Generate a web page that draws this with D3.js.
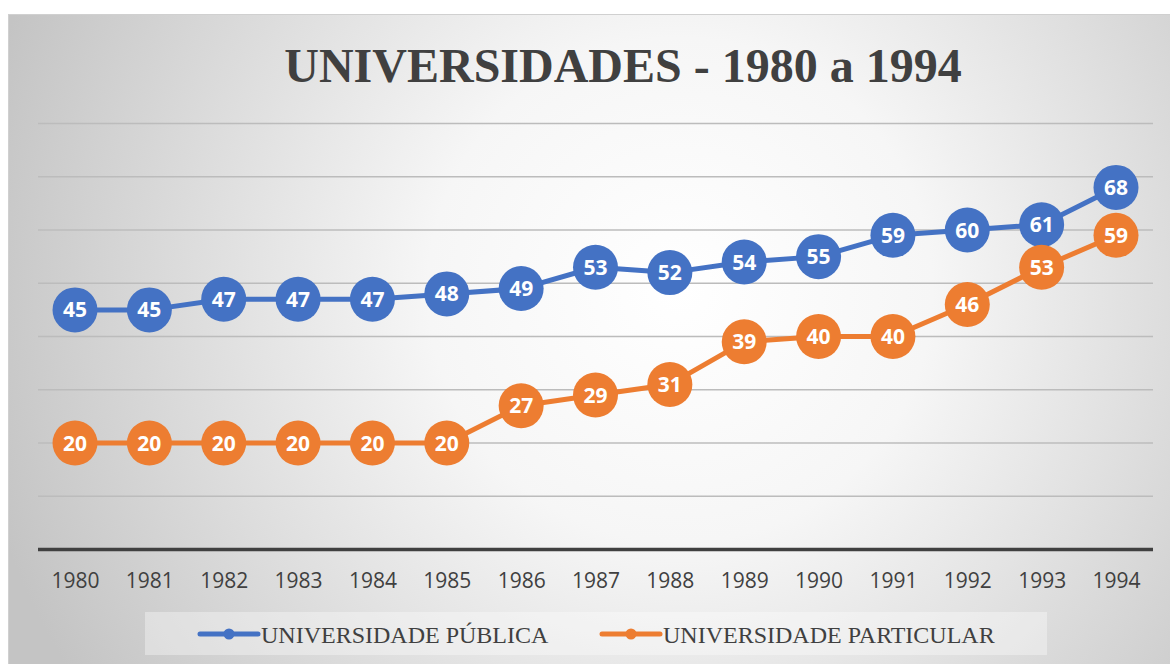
<!DOCTYPE html>
<html lang="pt">
<head>
  <meta charset="UTF-8">
  <title>Universidades 1980 a 1994</title>
  <script src="https://d3js.org/d3.v7.min.js"></script>
  <style>
    * { margin: 0; padding: 0; box-sizing: border-box; }
    body { background: #fff; }
  </style>
</head>
<body>
  <div id="chart"></div>
  <script>
    // dados
    const anos = ["1980","1981","1982","1983","1984","1985","1986","1987","1988","1989","1990","1991","1992","1993","1994"];
    const publica = [45, 45, 47, 47, 47, 48, 49, 53, 52, 54, 55, 59, 60, 61, 68];
    const particular = [20, 20, 20, 20, 20, 20, 27, 29, 31, 39, 40, 40, 46, 53, 59];
    const yTicks = [0, 10, 20, 30, 40, 50, 60, 70, 80];
    const seriesNames = ["UNIVERSIDADE PÚBLICA", "UNIVERSIDADE PARTICULAR"];
    const seriesColors = ["#4472c4", "#ed7d31"];

    const W = 1170, H = 664;
    const svg = d3.select("#chart").append("svg")
      .attr("width", W).attr("height", H);

    const defs = svg.append("defs");
    const grad = defs.append("radialGradient")
      .attr("id", "bg")
      .attr("gradientUnits", "userSpaceOnUse")
      .attr("cx", 680).attr("cy", 290).attr("r", 720);
    grad.append("stop").attr("offset", "0%").attr("stop-color", "#ffffff");
    grad.append("stop").attr("offset", "35%").attr("stop-color", "#f6f6f6");
    grad.append("stop").attr("offset", "100%").attr("stop-color", "#c4c4c4");

    // fundo
    svg.append("rect")
      .attr("x", 8.5).attr("y", 14.5)
      .attr("width", W - 8).attr("height", H - 14)
      .attr("fill", "url(#bg)")
      .attr("stroke", "#d0d0d0");

    const x = d3.scalePoint().domain(anos).range([75, 1116]);
    const y = d3.scaleLinear().domain([0, 80]).range([549.5, 123.5]);

    // grade
    svg.append("g")
      .selectAll("line")
      .data(yTicks.filter(d => d > 0))
      .join("line")
      .attr("x1", 38).attr("x2", 1153)
      .attr("y1", d => y(d)).attr("y2", d => y(d))
      .attr("stroke", "#bcbcbc")
      .attr("stroke-width", 1.5);

    // eixo x
    const xAxis = svg.append("g")
      .attr("transform", `translate(0, ${y(0)})`)
      .call(d3.axisBottom(x).tickSize(0).tickPadding(24));
    xAxis.select(".domain")
      .attr("d", "M38,0H1153")
      .attr("stroke", "#404040")
      .attr("stroke-width", 3.5);
    xAxis.selectAll("text")
      .style("font-family", "'Open Sans', sans-serif")
      .style("font-size", "21px")
      .attr("fill", "#404040");

    // título
    svg.append("text")
      .attr("x", 623).attr("y", 82)
      .attr("text-anchor", "middle")
      .style("font-family", "'Liberation Serif', 'Times New Roman', serif")
      .style("font-weight", "bold")
      .style("font-size", "48px")
      .attr("fill", "#404040")
      .text("UNIVERSIDADES - 1980 a 1994");

    const line = d3.line()
      .x((d, i) => x(anos[i]))
      .y(d => y(d));

    [publica, particular].forEach((vals, k) => {
      const g = svg.append("g");
      g.append("path")
        .datum(vals)
        .attr("d", line)
        .attr("fill", "none")
        .attr("stroke", seriesColors[k])
        .attr("stroke-width", 5)
        .attr("stroke-linejoin", "round");
      g.selectAll("circle")
        .data(vals)
        .join("circle")
        .attr("cx", (d, i) => x(anos[i]))
        .attr("cy", d => y(d))
        .attr("r", 22.5)
        .attr("fill", seriesColors[k]);
      g.selectAll("text")
        .data(vals)
        .join("text")
        .attr("x", (d, i) => x(anos[i]))
        .attr("y", d => y(d))
        .attr("dy", "0.36em")
        .attr("text-anchor", "middle")
        .style("font-family", "'Open Sans', sans-serif")
        .style("font-weight", "bold")
        .style("font-size", "21px")
        .attr("fill", "#fff")
        .text(d => d);
    });

    // legenda
    svg.append("rect")
      .attr("x", 145).attr("y", 612)
      .attr("width", 902).attr("height", 43)
      .attr("fill", "#ffffff").attr("fill-opacity", 0.35);

    const legX = [200, 602];
    seriesNames.forEach((name, k) => {
      const lg = svg.append("g").attr("transform", `translate(${legX[k]}, 634)`);
      lg.append("line")
        .attr("x1", 0).attr("x2", 58)
        .attr("stroke", seriesColors[k])
        .attr("stroke-width", 5)
        .attr("stroke-linecap", "round");
      lg.append("circle").attr("cx", 29).attr("r", 5.5).attr("fill", seriesColors[k]);
      lg.append("text")
        .attr("x", 61).attr("y", 8.5)
        .style("font-family", "'Liberation Serif', 'Times New Roman', serif")
        .style("font-size", "24px")
        .attr("fill", "#404040")
        .text(name);
    });
  </script>
</body>
</html>
